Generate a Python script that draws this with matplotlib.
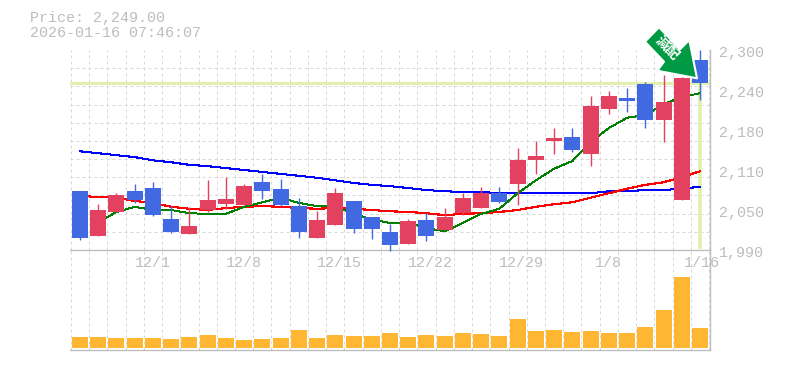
import numpy as np
import matplotlib
matplotlib.use("Agg")
import matplotlib.pyplot as plt
from matplotlib.patches import Polygon
from matplotlib.transforms import ScaledTranslation

# -------------------------------
# 1. Data
# -------------------------------
opens = [2081, 2012, 2049, 2081, 2086, 2038, 2015, 2052, 2061, 2060, 2095, 2085,
         2058, 2009, 2029, 2066, 2041, 2018, 1999, 2036, 2021, 2047, 2055, 2078,
         2092, 2129, 2159, 2165, 2139, 2209, 2225, 2247, 2191, 2067, 2284]
closes = [2009, 2052, 2075, 2067, 2044, 2018, 2027, 2067, 2069, 2089, 2081, 2060,
          2018, 2037, 2078, 2023, 2023, 1998, 2035, 2012, 2041, 2071, 2078, 2064,
          2129, 2136, 2164, 2145, 2213, 2229, 2221, 2191, 2219, 2257, 2249]
highs = [2081, 2061, 2078, 2092, 2095, 2058, 2057, 2098, 2103, 2092, 2108, 2100,
         2071, 2050, 2086, 2066, 2041, 2030, 2038, 2047, 2055, 2078, 2088, 2088,
         2148, 2159, 2179, 2179, 2229, 2236, 2241, 2250, 2261, 2258, 2300]
lows = [2006, 2012, 2049, 2063, 2043, 2016, 2015, 2049, 2054, 2060, 2069, 2058,
        2009, 2009, 2029, 2016, 2007, 1989, 1999, 2004, 2021, 2044, 2055, 2063,
        2060, 2108, 2139, 2142, 2120, 2201, 2204, 2179, 2157, 2067, 2222]

ma_short = [np.nan, 2033, 2049, 2057, 2052, 2052, 2047, 2046, 2046, 2057, 2064, 2071,
            2063, 2058, 2057, 2047, 2037, 2032, 2032, 2024, 2019, 2032, 2046, 2054,
            2078, 2098, 2116, 2128, 2157, 2179, 2195, 2199, 2216, 2227, 2233]
ma_mid = [2074, 2072, 2071, 2066, 2063, 2057, 2054, 2052, 2055, 2057, 2058, 2057,
          2055, 2054, 2055, 2054, 2052, 2050, 2049, 2047, 2044, 2046, 2047, 2049,
          2052, 2057, 2061, 2064, 2071, 2078, 2085, 2091, 2095, 2103, 2112]
ma_long = [2143, 2140, 2137, 2134, 2129, 2126, 2122, 2120, 2117, 2114, 2111, 2108,
           2105, 2102, 2098, 2094, 2091, 2089, 2086, 2083, 2081, 2080, 2080, 2078,
           2078, 2078, 2078, 2078, 2078, 2081, 2081, 2083, 2083, 2085, 2088]

volume = [110, 110, 100, 100, 100, 90, 110, 130, 100, 80, 90, 100,
          180, 100, 130, 120, 120, 150, 110, 130, 120, 150, 140, 120,
          290, 170, 180, 160, 170, 150, 150, 210, 380, 710, 200]

last_price = 2249
price_ticks = [2300, 2238, 2176, 2114, 2052, 1990]
price_labels = ["2,300", "2,240", "2,180", "2,110", "2,050", "1,990"]
date_ticks = [4.0, 9.0, 14.2, 19.2, 24.2, 29.0, 34.1]
date_labels = ["12/1", "12/8", "12/15", "12/22", "12/29", "1/8", "1/16"]

# -------------------------------
# 2. Figure and axes
# -------------------------------
W, H = 785, 370
RED = "#E2415F"
BLUE = "#4169E1"
ORANGE = "#FFB733"
GREY = "#BEBEBE"
TEXT = "#BDBDBD"
MONO = "Liberation Mono"
FS = 10.8
PX = 0.72  # one pixel in points

fig = plt.figure(figsize=(W / 100, H / 100), dpi=100, facecolor="white")
ax = fig.add_axes([70 / W, 1 - 250 / H, 640 / W, 200 / H], facecolor="none")
vol = fig.add_axes([70 / W, 1 - 350 / H, 640 / W, 100 / H], facecolor="none")

x = np.arange(len(opens))
for a in (ax, vol):
    a.set_xlim(-0.548, 34.548)
    a.set_xticks(np.arange(-0.5, 35), minor=True)
    a.grid(which="minor", axis="x", color="#D8D8D8", lw=PX, ls=(0, (3, 3)))
    a.set_axisbelow(True)
    a.tick_params(which="both", length=0)
    a.spines["left"].set_visible(False)
    a.spines["top"].set_visible(False)
    a.spines["right"].set_color(GREY)
    a.spines["bottom"].set_color(GREY)
    a.spines["right"].set_linewidth(1.0)
    a.spines["bottom"].set_linewidth(1.0)

# -------------------------------
# 3. Price panel
# -------------------------------
ax.set_ylim(1990, 2300)
ax.set_yticks(np.linspace(1990, 2300, 12), minor=True)
ax.grid(which="minor", axis="y", color="#D8D8D8", lw=PX, ls=(0, (3, 3)))
ax.yaxis.tick_right()
ax.set_yticks(price_ticks)
ax.set_yticklabels(price_labels, family=MONO, fontsize=FS, color=TEXT)
ax.tick_params(axis="y", which="major", pad=6.5)
shift = ScaledTranslation(0, -0.02, fig.dpi_scale_trans)
for lab in ax.get_yticklabels():
    lab.set_transform(lab.get_transform() + shift)
ax.set_xticks(date_ticks)
ax.set_xticklabels(date_labels, family=MONO, fontsize=FS, color=TEXT)
ax.tick_params(axis="x", which="major", pad=4.5)

ax.axhline(last_price, color="#E2F0AE", lw=2.2, zorder=1)
ax.vlines(x[-1], 1992, last_price, color="#E2F0AE", lw=2.6, zorder=1)

ax.plot(x, ma_long, color="blue", lw=0.75, antialiased=False, zorder=2)
ax.plot(x, ma_mid, color="red", lw=0.8, antialiased=False, zorder=2)
ax.plot(x, ma_short, color="green", lw=0.7, antialiased=False, zorder=2)

for i in x:
    c = RED if closes[i] >= opens[i] else BLUE
    ax.vlines(i, lows[i], highs[i], color=c, lw=1.0, zorder=3, clip_on=False)
    ax.bar(i, abs(closes[i] - opens[i]), bottom=min(opens[i], closes[i]),
           width=0.877, color=c, zorder=4)

# -------------------------------
# 4. Volume panel
# -------------------------------
vol.set_ylim(-20, 980)
vol.set_yticks([])
vol.set_xticks([])
vol.bar(x, volume, width=0.877, color=ORANGE, zorder=3)

# -------------------------------
# 5. Header and arrow badge (pixel overlay)
# -------------------------------
top = fig.add_axes([0, 0, 1, 1], facecolor="none")
top.set_xlim(0, W)
top.set_ylim(H, 0)
top.axis("off")

top.text(30, 18, "Price: 2,249.00", family=MONO, fontsize=FS, color=TEXT, va="center")
top.text(30, 33, "2026-01-16 07:46:07", family=MONO, fontsize=FS, color=TEXT, va="center")

arrow_x = [659, 645, 664, 657.3, 697, 689.3, 680]
arrow_y = [27.3, 41.7, 61.7, 70.7, 78.3, 40, 49.3]
top.add_patch(Polygon(np.column_stack([arrow_x, arrow_y]), closed=True,
                      facecolor="#009944", edgecolor="white", lw=1.5, joinstyle="round"))
top.text(666.5, 48, "減配", family=["Noto Sans CJK JP", "DejaVu Sans"], fontsize=10,
         fontweight="bold", color="white", rotation=-45, rotation_mode="anchor",
         ha="center", va="center")

fig.savefig("out.png", dpi=100)
